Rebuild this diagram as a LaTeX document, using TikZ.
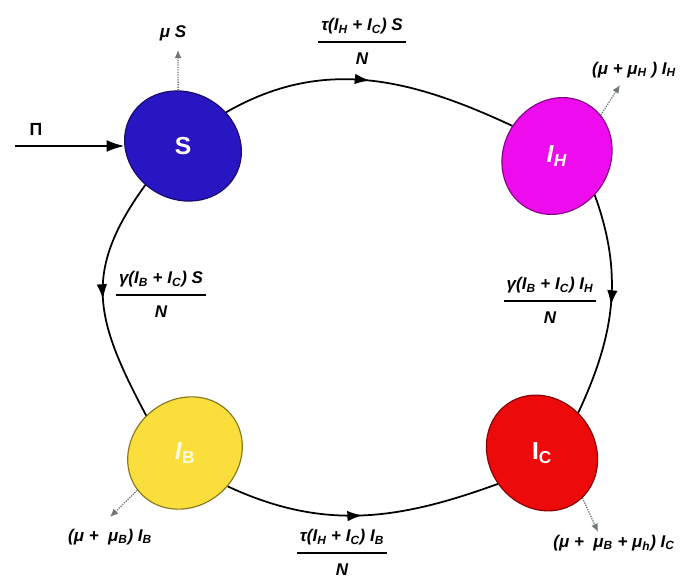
\documentclass[tikz,border=0pt]{standalone}
\usepackage{fontspec}
\setmainfont{Liberation Sans}
\usepackage{tikz}
\usetikzlibrary{positioning}
\usetikzlibrary{arrows.meta, shapes.geometric, decorations.markings}
\definecolor{sblue}{RGB}{40, 22, 195}
\definecolor{hpink}{RGB}{238, 12, 238}
\definecolor{byellow}{RGB}{250, 222, 60}
\definecolor{cred}{RGB}{236, 10, 10}
\definecolor{lossgray}{RGB}{110, 118, 118}

% rate written as a fraction with a bar
\newcommand{\flowfrac}[2]{{\setlength{\arrayrulewidth}{1.6pt}%
  \begin{tabular}{@{\,}c@{\,}}#1\\[4pt]\hline\rule{0pt}{19pt}#2\end{tabular}}}

\begin{document}
\begin{tikzpicture}[x=0.03cm, y=0.03cm,
    compartment/.style={ellipse, draw=#1!55!black, line width=1pt, fill=#1,
        minimum width=3.6cm, minimum height=3.2cm, inner sep=0pt,
        text=white, font=\fontsize{21}{24}\selectfont\bfseries},
    flow/.style={line width=1.5pt, postaction={decorate},
        decoration={markings, mark=at position 0.5 with {\arrow{Latex[length=13pt,width=9pt]}}}},
    loss/.style={densely dotted, lossgray, line width=1.1pt, -{Latex[length=7pt,width=6pt]}},
    rate/.style={font=\fontsize{14.5}{16}\selectfont\bfseries\itshape, inner sep=1pt}]
    \useasboundingbox (0,0) rectangle (683,579);

    % Các ngăn: S, I_H, I_B, I_C
    \node[compartment=sblue, rotate=-30] (S) at (183,433) {\rotatebox{30}{S}};
    \node[compartment=hpink, rotate=60] (IH) at (557,423) {\rotatebox{-60}{\textit{I}\textsubscript{\textit{H}}}};
    \node[compartment=byellow, rotate=40, text=white!85!byellow] (IB) at (185,126) {\rotatebox{-40}{\textit{I}\textsubscript{B}}};
    \node[compartment=cred, rotate=-55] (IC) at (542,126) {\rotatebox{55}{I\textsubscript{C}}};

    % Dòng vào Pi
    \coordinate (pin) at (15,433);
    \node[rate, font=\fontsize{15}{16}\selectfont\bfseries] (pi) at (36,450) {Π};
    \draw[line width=1.5pt, -{Latex[length=15pt,width=10pt]}] (pin) -- (S);

    % Các mũi tên chuyển ngăn
    \draw[flow] (S.68) to[out=30, in=155] (IH.86);
    \draw[flow] (IH.-106) to[out=-70, in=65] (IC.103);
    \draw[flow] (S.-104) to[out=-126, in=118, looseness=1.2] (IB.96);
    \draw[flow] (IB.-78) to[out=-25, in=200] (IC.270);

    % Tỉ lệ chuyển
    \node[rate] (rSH) at (362,535) {\flowfrac{τ(\textit{I}\textsubscript{\textit{H}} + \textit{I}\textsubscript{C}) S}{N}};
    \node[rate] (rSB) at (161,282) {\flowfrac{γ(\textit{I}\textsubscript{B} + \textit{I}\textsubscript{C}) S}{N}};
    \node[rate] (rHC) at (550,276) {\flowfrac{γ(\textit{I}\textsubscript{B} + \textit{I}\textsubscript{C}) \textit{I}\textsubscript{\textit{H}}}{N}};
    \node[rate] (rBC) at (342,24) {\flowfrac{τ(\textit{I}\textsubscript{\textit{H}} + \textit{I}\textsubscript{C}) \textit{I}\textsubscript{\textit{B}}}{N}};

    % Các mũi tên chết (chấm)
    \coordinate (dS) at (178,529);
    \draw[loss] (S.125) -- (dS);
    \node[rate] (lS) at (173,546) {μ S};

    \coordinate (dH) at (620,494);
    \draw[loss] (IH.-17) -- (dH);
    \node[rate] (lH) at (634,509) {(μ + μ\textsubscript{\textit{H}} ) \textit{I}\textsubscript{\textit{H}}};

    \coordinate (dB) at (110,62);
    \draw[loss] (IB.178) -- (dB);
    \node[rate] (lB) at (110,42) {(μ +\ \ μ\textsubscript{B}) \textit{I}\textsubscript{B}};

    \coordinate (dC) at (598,47);
    \draw[loss] (IC.7) -- (dC);
    \node[rate] (lC) at (614,36) {(μ +\ \ μ\textsubscript{\textit{B}} + μ\textsubscript{\textit{h}}) \textit{I}\textsubscript{C}};
\end{tikzpicture}
\end{document}
